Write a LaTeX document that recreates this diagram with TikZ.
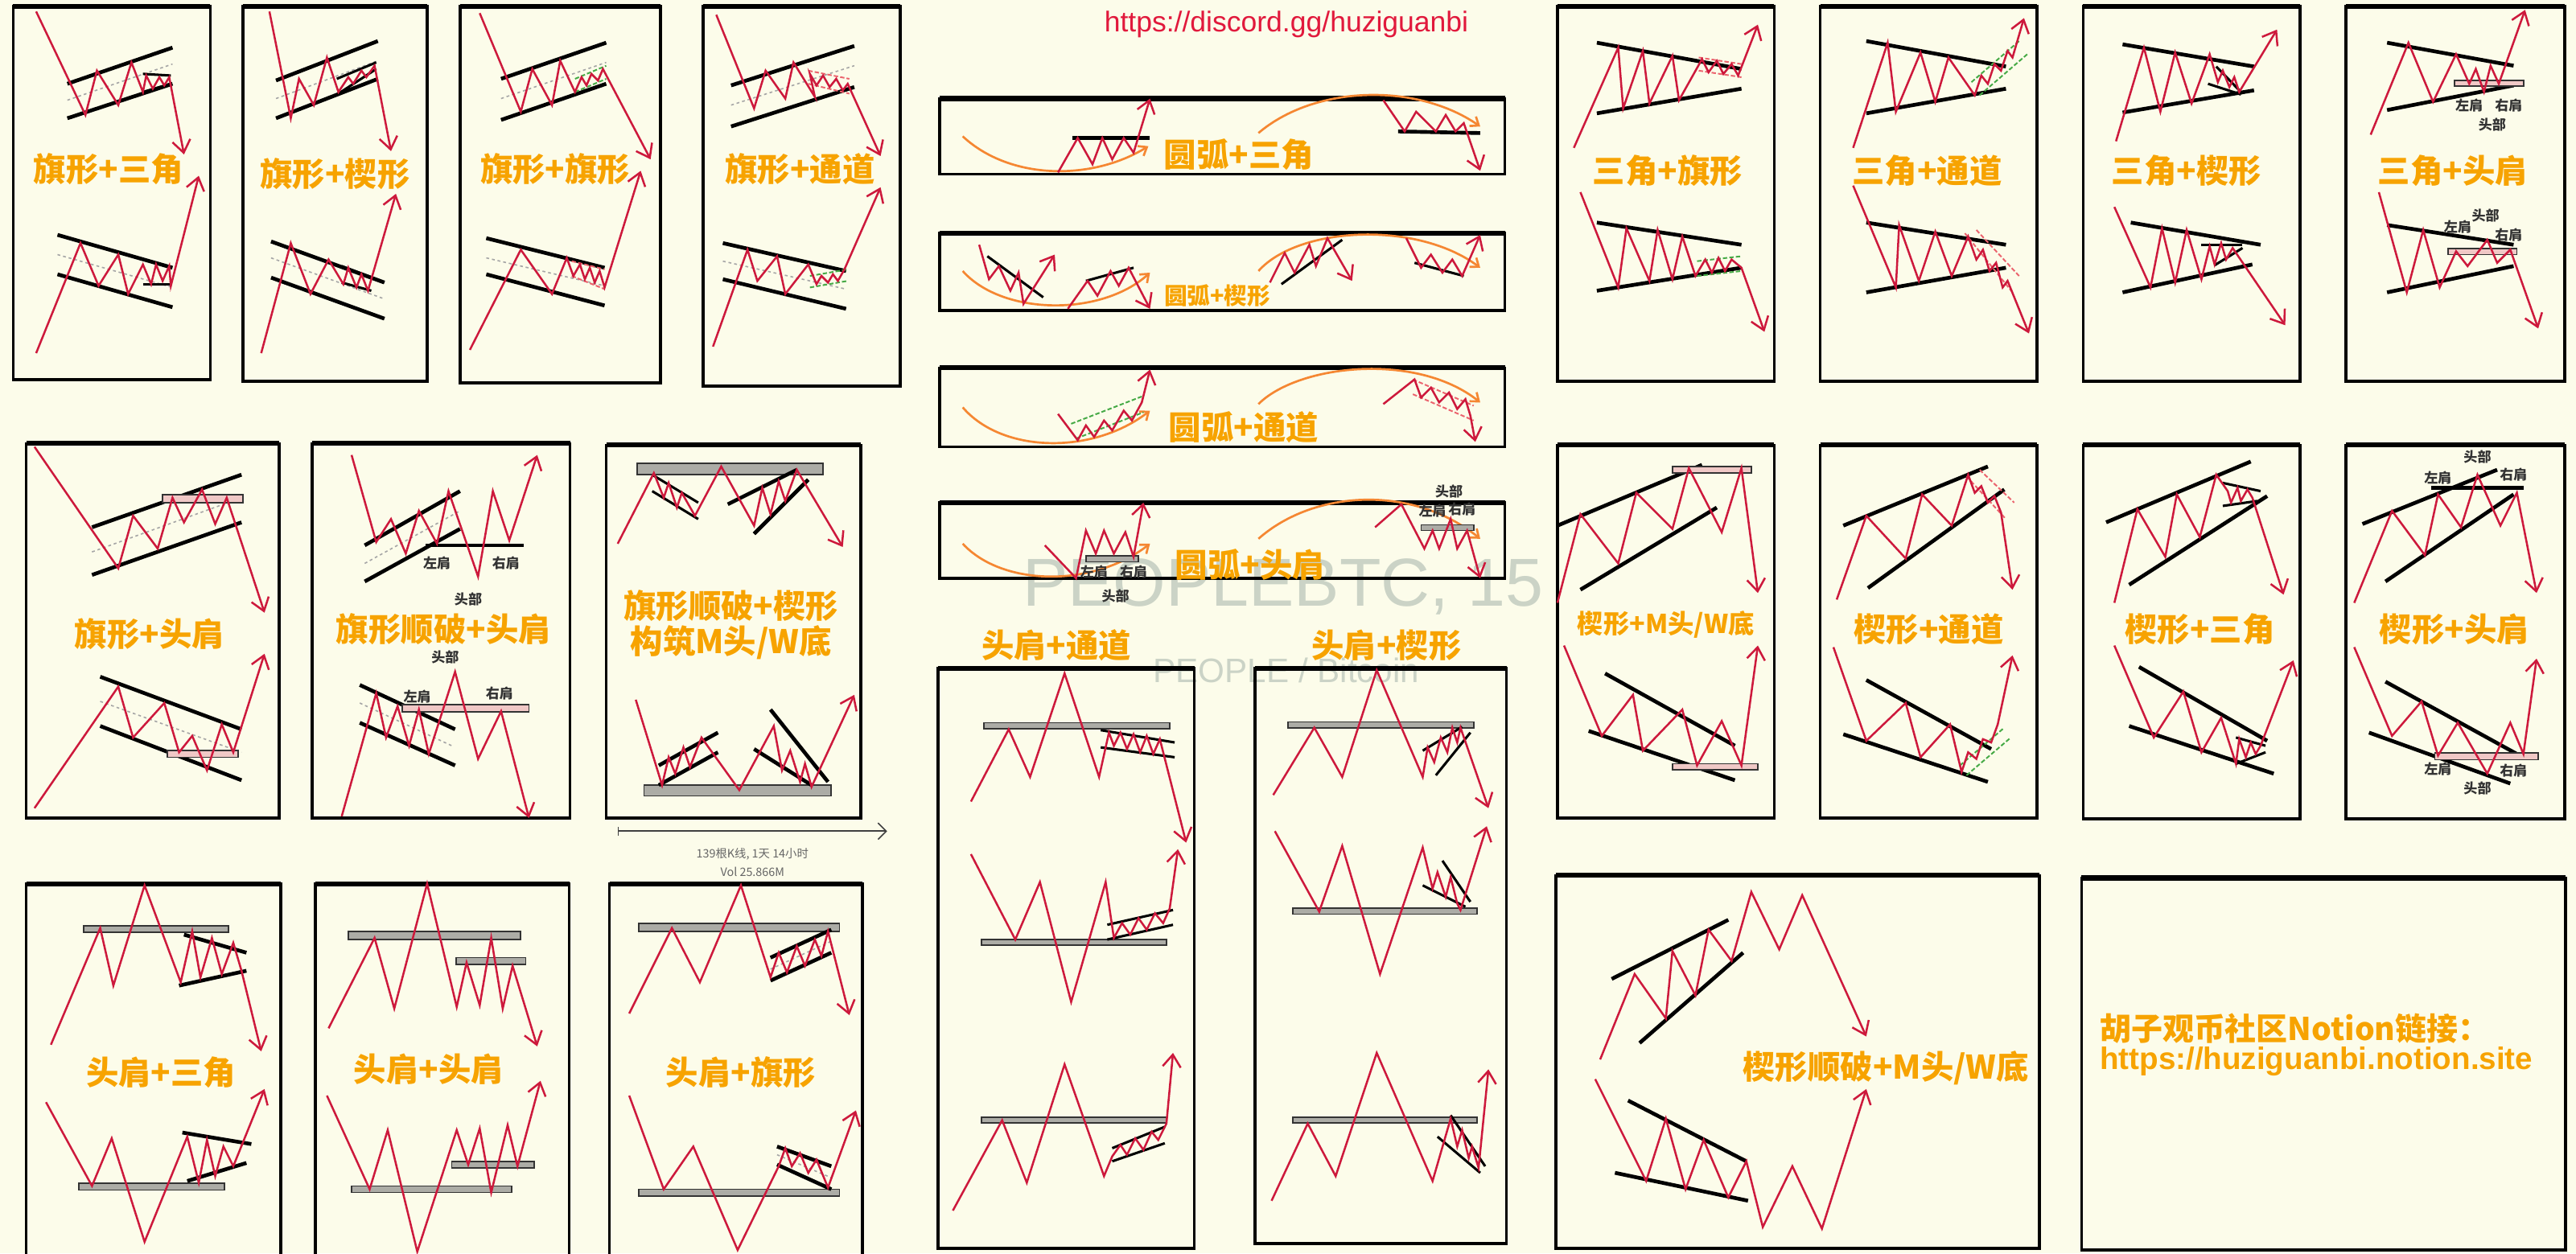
\documentclass[tikz,border=0pt]{standalone}
\usepackage{fontspec}
\setmainfont{Liberation Sans}
\newfontfamily\cjk{Noto Sans CJK SC}
\newfontfamily\latn{Liberation Sans}
\usetikzlibrary{arrows.meta}
\definecolor{bg}{RGB}{252,252,234}
\definecolor{pr}{RGB}{205,25,60}
\definecolor{tor}{RGB}{247,163,0}
\definecolor{arcor}{RGB}{245,135,50}
\definecolor{wm}{RGB}{203,211,198}
\definecolor{barg}{RGB}{172,172,166}
\definecolor{barp}{RGB}{240,200,198}
\definecolor{grn}{RGB}{70,170,70}
\definecolor{pnk}{RGB}{235,100,110}
\definecolor{urlr}{RGB}{225,25,60}
\tikzset{
  rl/.style={draw=pr, line width=1.4pt},
  ra/.style={rl, -{Straight Barb[length=3mm,width=4.4mm]}},
  tl/.style={draw=black, line width=2.6pt},
  tlt/.style={draw=black, line width=1.7pt},
  dl/.style={draw=gray!70, line width=0.9pt, dash pattern=on 2pt off 2pt},
  gl/.style={draw=grn, line width=1.1pt, dash pattern=on 3pt off 1.5pt},
  pl/.style={draw=pnk, line width=1.1pt, dash pattern=on 3pt off 1.5pt},
  bar/.style={draw=black!80, fill=barg, line width=1pt},
  pbar/.style={draw=black!80, fill=barp, line width=1pt},
  arcl/.style={draw=arcor, line width=1.5pt},
  arca/.style={arcl, -{Straight Barb[length=1.8mm,width=2.8mm]}},
  frame/.style={draw=black, line width=2pt},
  topl/.style={draw=black, line width=3.4pt},
  ttl/.style={text=tor, font=\cjk\bfseries\fontsize{22.5}{24}\selectfont, inner sep=0},
  ttm/.style={text=tor, font=\cjk\bfseries\fontsize{18}{20}\selectfont, inner sep=0},
  tts/.style={text=tor, font=\cjk\bfseries\fontsize{16}{18}\selectfont, inner sep=0},
  lab/.style={text=black!80, font=\cjk\bfseries\fontsize{9.5}{10}\selectfont, inner sep=0},
}
\newcommand\myfrm[4]{\draw[frame] (#1,#2) rectangle (#3,#4); \draw[topl] (#1,#2)--(#3,#2);}
\begin{document}
\begin{tikzpicture}[x=0.04cm,y=-0.04cm]
\fill[bg] (0,0) rectangle (1568,763);
\useasboundingbox (0,0) rectangle (1568,763);
% watermark
\node[text=wm, font=\latn\fontsize{47}{50}\selectfont, inner sep=0] (wm1) at (781,357) {PEOPLEBTC, 15};
\node[text=wm, font=\latn\fontsize{23.5}{25}\selectfont, inner sep=0] (wm2) at (783,408) {PEOPLE / Bitcoin};
% url
\node[text=urlr, font=\latn\fontsize{19.8}{21}\selectfont, inner sep=0] (url) at (783,15) {https://discord.gg/huziguanbi};

% ===== B1 =====
\myfrm{8}{4}{128}{231}
\draw[tl] (41,51)--(105,29); \draw[tl] (41,72)--(105,51); \draw[dl] (41,61)--(105,39);
\draw[tlt] (87,45)--(104,46); \draw[tlt] (87,56)--(104,51);
\draw[ra] (22,7)--(52,70)--(59,43)--(72,64)--(80,38)--(87,56)--(89,46)--(93,54)--(97,47)--(100,52)--(103,47)--(112,94);
\draw[tl] (35,143)--(105,163); \draw[tl] (35,167)--(105,187); \draw[dl] (35,155)--(105,175);
\draw[tlt] (87,173)--(105,173);
\draw[ra] (22,215)--(49,148)--(60,174)--(72,155)--(78,179)--(87,161)--(92,173)--(95,161)--(99,171)--(103,162)--(104,174)--(121,107);
\node[ttl] (t1) at (66,103) {旗形+三角};

% ===== B2 =====
\myfrm{148}{4}{260}{232}
\draw[tl] (168,49)--(230,25); \draw[tl] (168,72)--(230,48); \draw[dl] (168,60)--(230,37);
\draw[tlt] (205,48)--(229,38); \draw[tlt] (206,57)--(229,42);
\draw[ra] (164,7)--(177,72)--(182,48)--(191,64)--(199,35)--(206,56)--(212,47)--(215,51)--(220,43)--(223,47)--(228,40)--(238,92);
\draw[tl] (165,147)--(234,172); \draw[tl] (165,169)--(234,194); \draw[dl] (165,157)--(234,182);
\draw[tlt] (208,162)--(232,171); \draw[tlt] (208,172)--(226,177);
\draw[ra] (159,215)--(177,148)--(189,179)--(200,158)--(209,173)--(212,163)--(217,175)--(220,167)--(224,177)--(241,118);
\node[ttl] (t2) at (204,106) {旗形+楔形};

% ===== B3 =====
\myfrm{280}{4}{402}{233}
\draw[tl] (305,48)--(369,26); \draw[tl] (305,73)--(369,51); \draw[dl] (305,60)--(369,38);
\draw[gl] (350,48)--(369,40); \draw[gl] (350,56)--(369,48);
\draw[ra] (292,8)--(317,68)--(324,42)--(336,64)--(341,37)--(350,56)--(354,47)--(357,52)--(360,45)--(364,49)--(367,42)--(396,97);
\draw[tl] (296,145)--(368,163); \draw[tl] (296,167)--(368,186); \draw[dl] (296,157)--(368,174);
\draw[pl] (348,159)--(368,164); \draw[pl] (348,168)--(368,176);
\draw[ra] (286,213)--(317,152)--(336,179)--(345,157)--(349,168)--(353,161)--(356,170)--(359,163)--(362,172)--(365,165)--(368,175)--(390,104);
\node[ttl] (t3) at (338,103) {旗形+旗形};

% ===== B4 =====
\myfrm{428}{4}{548}{235}
\draw[tl] (445,52)--(520,28); \draw[tl] (445,77)--(520,53); \draw[dl] (445,64)--(520,40);
\draw[pl] (492,43)--(517,48); \draw[pl] (492,51)--(517,57);
\draw[ra] (436,9)--(459,66)--(466,43)--(478,60)--(483,38)--(496,59)--(493,45)--(497,52)--(501,46)--(505,53)--(509,48)--(513,55)--(516,51)--(536,95);
\draw[tl] (440,148)--(515,165); \draw[tl] (440,170)--(515,188); \draw[dl] (440,159)--(515,176);
\draw[gl] (493,168)--(516,164); \draw[gl] (493,175)--(516,171);
\draw[ra] (434,211)--(455,152)--(461,171)--(473,156)--(478,179)--(492,161)--(497,173)--(500,168)--(504,172)--(507,167)--(510,171)--(514,164)--(536,114);
\node[ttl] (t4) at (487,103) {旗形+通道};

% ===== A1 =====
\myfrm{572}{60}{916}{106}
\draw[arca] (586,83) .. controls (615,110) and (665,110) .. (699,89);
\draw[tl] (653,84)--(700,84);
\draw[ra] (644,105)--(656,84)--(665,100)--(671,84)--(677,97)--(684,84)--(690,93)--(700,60);
\draw[arca] (766,81) .. controls (800,52) and (862,50) .. (901,77);
\draw[tl] (851,80)--(901,81);
\draw[ra] (842,61)--(855,80)--(862,68)--(874,80)--(880,70)--(886,80)--(891,75)--(901,104);
\node[ttl] (t5) at (754,94) {圆弧+三角};

% ===== A2 =====
\myfrm{572}{142}{916}{189}
\draw[arca] (586,165) .. controls (610,192) and (670,193) .. (700,166);
\draw[tlt] (601,156)--(635,181);
\draw[ra] (596,149)--(602,170)--(608,162)--(615,177)--(620,166)--(623,185)--(642,155);
\draw[tlt] (661,171)--(690,163);
\draw[ra] (650,188)--(662,171)--(668,180)--(676,165)--(681,174)--(687,163)--(700,188);
\draw[arca] (766,165) .. controls (790,138) and (862,134) .. (901,163);
\draw[tlt] (780,173)--(817,146);
\draw[ra] (773,172)--(782,154)--(788,166)--(797,149)--(801,162)--(808,145)--(823,171);
\draw[tlt] (861,160)--(891,168);
\draw[ra] (856,145)--(865,163)--(871,155)--(878,166)--(884,158)--(890,168)--(901,143);
\node[tts] (t6) at (741,180) {圆弧+楔形};

% ===== A3 =====
\myfrm{572}{224}{916}{272}
\draw[arca] (586,248) .. controls (610,276) and (665,277) .. (700,250);
\draw[gl] (652,258)--(696,241); \draw[gl] (655,267)--(696,251);
\draw[ra] (644,252)--(656,268)--(661,259)--(666,266)--(672,256)--(677,262)--(684,250)--(689,256)--(695,245)--(700,225);
\draw[arca] (766,246) .. controls (790,222) and (862,214) .. (901,245);
\draw[pl] (860,231)--(897,247); \draw[pl] (860,240)--(897,256);
\draw[ra] (842,246)--(861,231)--(865,242)--(871,236)--(876,245)--(882,239)--(887,249)--(892,243)--(895,253)--(898,269);
\node[ttl] (t7) at (757,260) {圆弧+通道};

% ===== A4 =====
\myfrm{572}{306}{916}{352}
\draw[arca] (586,331) .. controls (610,357) and (665,358) .. (700,331);
\draw[bar] (661,338.5) rectangle (693,342);
\draw[ra] (636,332)--(655,352)--(661,323)--(667,337)--(672,323)--(678,337)--(685,324)--(690,339)--(696,306);
\node[lab] (l1) at (666,348) {左肩};
\node[lab] (l2) at (690,348) {右肩};
\node[lab] (l3) at (679,363) {头部};
\draw[arca] (766,328) .. controls (800,298) and (860,295) .. (901,328);
\draw[bar] (865,319.5) rectangle (897,323);
\draw[ra] (837,321)--(853,307)--(867,334)--(872,323)--(876,334)--(883,316)--(887,334)--(893,323)--(901,352);
\node[lab] (l4) at (872,311) {左肩};
\node[lab] (l5) at (890,310) {右肩};
\node[lab] (l6) at (882,299) {头部};
\node[ttl] (t8) at (761,344) {圆弧+头肩};

% ===== B5 =====
\myfrm{16}{270}{170}{498}
\draw[tl] (56,321)--(147,289); \draw[tl] (56,350)--(147,318); \draw[dl] (56,336)--(147,303);
\draw[pbar] (99,301) rectangle (148,306);
\draw[ra] (21,272)--(72,346)--(81,314)--(96,334)--(105,303)--(112,318)--(123,298)--(131,319)--(138,303)--(161,373);
\draw[tl] (61,412)--(147,444); \draw[tl] (61,442)--(147,475); \draw[dl] (61,427)--(147,458);
\draw[pbar] (102,457) rectangle (145,461);
\draw[ra] (21,492)--(72,418)--(81,449)--(100,428)--(109,458)--(117,448)--(126,469)--(135,441)--(142,458)--(161,398);
\node[ttl] (t9) at (91,386) {旗形+头肩};

% ===== B6 =====
\myfrm{190}{270}{347}{498}
\draw[tl] (222,332)--(280,299); \draw[tl] (222,354)--(280,322); \draw[dl] (222,343)--(280,311);
\draw[tl] (259,332)--(319,332);
\draw[ra] (214,277)--(229,330)--(238,316)--(247,337)--(255,311)--(266,331)--(273,299)--(291,351)--(300,299)--(310,329)--(327,277);
\node[lab] (l7) at (266,343) {左肩};
\node[lab] (l8) at (308,343) {右肩};
\node[lab] (l9) at (285,365) {头部};
\node[ttl] (t10) at (270,383) {旗形顺破+头肩};
\node[lab] (l10) at (271,400) {头部};
\draw[tl] (219,417)--(277,444); \draw[tl] (219,440)--(277,466); \draw[dl] (219,428)--(275,454);
\draw[pbar] (245,429) rectangle (322,433.5);
\draw[ra] (208,497)--(229,422)--(235,449)--(242,430)--(249,454)--(255,432)--(261,459)--(277,409)--(291,462)--(305,433)--(322,498);
\node[lab] (l11) at (254,424) {左肩};
\node[lab] (l12) at (304,422) {右肩};

% ===== B7 =====
\myfrm{369}{271}{524}{498}
\draw[bar] (388,282) rectangle (501,289);
\draw[tlt] (397,289)--(425,306); \draw[tlt] (397,299)--(425,316);
\draw[tl] (443,307)--(485,286); \draw[tl] (459,325)--(492,292);
\draw[ra] (376,331)--(398,288)--(404,303)--(407,294)--(412,309)--(415,300)--(423,314)--(439,284)--(459,320)--(464,297)--(469,313)--(474,293)--(478,305)--(485,286)--(513,333);
\node[ttl] (t11) at (445,369) {旗形顺破+楔形};
\node[ttl] (t12) at (445,391) {构筑M头/W底};
\draw[bar] (392,478) rectangle (506,484.5);
\draw[tl] (401,466)--(437,446); \draw[tl] (401,478)--(437,458);
\draw[tl] (459,456)--(494,478); \draw[tl] (469,432)--(504,476);
\draw[ra] (387,426)--(403,478)--(407,461)--(411,471)--(416,455)--(420,467)--(427,449)--(450,481)--(471,442)--(476,469)--(481,457)--(487,476)--(490,465)--(494,479)--(520,423);
\coordinate (ax1) at (376,506);
\coordinate (ax2) at (540,506);
\draw[draw=black!75, line width=0.9pt, {Bar[width=2.2mm]}-{Straight Barb[length=2mm,width=4mm]}] (ax1)--(ax2);
\node[text=black!60, font=\cjk\fontsize{8}{9}\selectfont, inner sep=0] (k1) at (458,520) {139根K线, 1天 14小时};
\node[text=black!60, font=\cjk\fontsize{8}{9}\selectfont, inner sep=0] (k2) at (458,531) {Vol 25.866M};

% ===== B8 =====
\myfrm{16}{538}{171}{775}
\draw[bar] (51,563.5) rectangle (139,567.5);
\draw[tl] (112,569)--(150,580); \draw[tl] (109,600)--(150,591);
\draw[ra] (31,636)--(61,565)--(69,600)--(88,539)--(110,598)--(117,567)--(122,595)--(129,571)--(135,593)--(142,574)--(147,591)--(159,640);
\draw[bar] (48,720.5) rectangle (136.5,724.5);
\draw[tl] (111,689.5)--(153,696.5); \draw[tl] (114,719)--(150,708);
\draw[ra] (28,671)--(56,722)--(68,693)--(88,756)--(114,692)--(121,720)--(126,694)--(131,716)--(136,698)--(142,710)--(161,663);
\node[ttl] (t13) at (98,653) {头肩+三角};

% ===== B9 =====
\myfrm{192}{538}{346.5}{775}
\draw[bar] (212,567) rectangle (317,572);
\draw[bar] (277.6,583) rectangle (320,587);
\draw[ra] (200,626)--(228,571)--(240,614)--(260,538)--(278,613)--(284,586)--(292,612)--(299,571)--(306,614)--(312,588)--(327,637);
\draw[bar] (214,722) rectangle (311.5,726);
\draw[bar] (275,707) rectangle (325,711);
\draw[ra] (199,667)--(225,724)--(236,688)--(254,762)--(278,688)--(285,709)--(292,687)--(299,726)--(309,685)--(315,710)--(329,658);
\node[ttl] (t14) at (261,651) {头肩+头肩};

% ===== B10 =====
\myfrm{371}{538}{525}{775}
\draw[bar] (389,562) rectangle (511,567);
\draw[tl] (469,583)--(506,566); \draw[tl] (469,597)--(506,580); \draw[dl] (469,590)--(506,573);
\draw[ra] (383,617)--(409,565)--(426,598)--(451,539)--(469,595)--(474,580)--(479,592)--(485,576)--(490,588)--(496,572)--(500,582)--(504,567)--(517,618);
\draw[bar] (389,724) rectangle (511,728);
\draw[tl] (473,698)--(506,710); \draw[tl] (473,709)--(506,724); \draw[dl] (473,703)--(506,717);
\draw[ra] (383,667)--(404,724)--(422,698)--(449,761)--(474,710)--(478,699)--(482,710)--(487,702)--(492,714)--(497,706)--(504,723)--(521,676);
\node[ttl] (t15) at (451,653) {头肩+旗形};

% ===== C1 =====
\myfrm{571}{407}{727}{760}
\node[ttl] (t16) at (643,393) {头肩+通道};
\draw[bar] (599,440) rectangle (712,443.5);
\draw[tlt] (670,444.5)--(715,452); \draw[tlt] (670,455)--(715,461);
\draw[ra] (591,488)--(614,444)--(627,473)--(648,410)--(669,473)--(675,446)--(678,454)--(682,446)--(686,456)--(690,447)--(694,458)--(698,448)--(702,459)--(706,450)--(722,513);
\draw[bar] (597.5,572) rectangle (710,575.5);
\draw[tlt] (674,563)--(714,554); \draw[tlt] (674,572)--(714,563);
\draw[ra] (591,520)--(618,572)--(633,537)--(652,610)--(673,537)--(678,571)--(683,562)--(688,569)--(693,559)--(698,566)--(703,556)--(708,562)--(712,553)--(717,517);
\draw[bar] (597.5,680) rectangle (710,683.5);
\draw[tlt] (677,699)--(709,686); \draw[tlt] (677,707)--(709,696);
\draw[ra] (580,737)--(610,682)--(625,720)--(648,648)--(672,716)--(677,704)--(682,697)--(686,703)--(691,693)--(696,700)--(701,689)--(705,694)--(710,684)--(714,641);

% ===== C2 =====
\myfrm{764}{407}{917}{757}
\node[ttl] (t17) at (844,393) {头肩+楔形};
\draw[bar] (784,439.5) rectangle (897,443);
\draw[tlt] (866,457)--(890,442.5); \draw[tlt] (874,472)--(895,446);
\draw[ra] (775,484)--(800,443)--(817,473)--(838,408)--(866,473)--(869,455)--(873,464)--(877,449)--(881,458)--(884,443)--(887,452)--(889,443)--(906,492);
\draw[bar] (787,553) rectangle (899,556.5);
\draw[tlt] (866,539)--(892,552); \draw[tlt] (878,524)--(895,549);
\draw[ra] (776,506)--(803,555)--(817,515)--(840,593)--(866,516)--(872,541)--(875,531)--(880,546)--(883,534)--(887,550)--(889,554)--(905,503);
\draw[bar] (787,680) rectangle (899,683.5);
\draw[tlt] (875,692)--(901,714); \draw[tlt] (883,679)--(904,710);
\draw[ra] (774,731)--(796,684)--(813,716)--(838,641)--(872,719)--(883,681)--(887,698)--(890,688)--(894,705)--(896,698)--(900,711)--(906,651);

% ===== B11 =====
\myfrm{948}{4}{1080}{232}
\draw[tl] (972,26)--(1060,42); \draw[tl] (972,69)--(1060,54);
\draw[pl] (1034,35)--(1060,39); \draw[pl] (1034,43)--(1060,47);
\draw[ra] (958,90)--(985,29)--(988,66)--(1000,31)--(1004,63)--(1018,34)--(1022,61)--(1036,36)--(1040,44)--(1045,37)--(1049,45)--(1054,39)--(1058,46)--(1070,15);
\draw[tl] (972,135.5)--(1060,149); \draw[tl] (972,177)--(1060,163);
\draw[gl] (1033,159)--(1060,156); \draw[gl] (1033,168)--(1060,165);
\draw[ra] (962,117)--(985,175)--(990,139)--(1004,171)--(1009,140)--(1018,170)--(1024,144)--(1032,168)--(1038,158)--(1042,166)--(1046,157)--(1050,165)--(1054,158)--(1060,163)--(1074,202);
\node[ttl] (t18) at (1015,104) {三角+旗形};

% ===== B12 =====
\myfrm{1108}{4}{1240}{232}
\draw[tl] (1136,25)--(1221,40.5); \draw[tl] (1136,69)--(1221,54);
\draw[gl] (1200,50)--(1229,25); \draw[gl] (1205,58)--(1234,33);
\draw[ra] (1128,90)--(1149,26)--(1154,68)--(1169,32)--(1178,62)--(1186,35)--(1202,58)--(1206,46)--(1210,51)--(1214,39)--(1218,43)--(1222,31)--(1225,35)--(1232,11);
\draw[tl] (1136,135.5)--(1221,149); \draw[tl] (1136,178)--(1221,163);
\draw[pl] (1196,142)--(1225,178); \draw[pl] (1203,140)--(1229,168);
\draw[ra] (1128,113)--(1154,175)--(1156,137)--(1168,171)--(1178,141)--(1188,168)--(1198,144)--(1203,158)--(1207,152)--(1211,165)--(1215,160)--(1219,175)--(1222,171)--(1235,203);
\node[ttl] (t19) at (1173,104) {三角+通道};

% ===== B13 =====
\myfrm{1268}{4}{1400}{232}
\draw[tl] (1292,27)--(1372,40.5); \draw[tl] (1292,68.5)--(1372,55);
\draw[tlt] (1349,40.5)--(1365,57); \draw[tlt] (1344,51)--(1364,57.5);
\draw[ra] (1288,86)--(1305,29)--(1315,68)--(1324,32)--(1334,63)--(1345,33)--(1350,50)--(1353,43)--(1357,53)--(1360,47)--(1363,56)--(1386,18);
\draw[tl] (1297,135.5)--(1376,149); \draw[tl] (1292,178)--(1371,161);
\draw[tlt] (1340,149)--(1365,149); \draw[tlt] (1348,161.5)--(1365,151);
\draw[ra] (1287,126)--(1309,175)--(1316,139)--(1324,172)--(1331,140)--(1340,170)--(1345,150)--(1348,161)--(1352,148)--(1355,158)--(1359,151)--(1391,198);
\node[ttl] (t20) at (1331,104) {三角+楔形};

% ===== B14 =====
\myfrm{1428}{4}{1561}{232}
\draw[tl] (1453,26)--(1530,40); \draw[tl] (1453,67)--(1530,52);
\draw[pbar] (1494,49) rectangle (1536,52.5);
\draw[ra] (1443,82)--(1466,26)--(1481,62)--(1495,33)--(1503,51)--(1507,42)--(1512,56)--(1516,40)--(1521,51)--(1537,6);
\node[lab] (l13) at (1503,64) {左肩};
\node[lab] (l14) at (1527,64) {右肩};
\node[lab] (l15) at (1517,76) {头部};
\draw[tl] (1453,137)--(1530,149); \draw[tl] (1453,178)--(1530,162);
\draw[pbar] (1490,151.5) rectangle (1532,155);
\draw[ra] (1448,117)--(1465,178)--(1475,140)--(1485,175)--(1495,153)--(1502,162)--(1514,146)--(1520,160)--(1528,152)--(1545,200);
\node[lab] (l16) at (1513,131) {头部};
\node[lab] (l17) at (1496,138) {左肩};
\node[lab] (l18) at (1527,143) {右肩};
\node[ttl] (t21) at (1493,104) {三角+头肩};

% ===== B15 =====
\myfrm{948}{271}{1080}{498}
\draw[tl] (948,320)--(1036,283); \draw[tl] (962,359)--(1045,309);
\draw[pbar] (1018,284) rectangle (1066,288);
\draw[ra] (948,367)--(962,313)--(985,343)--(996,300)--(1018,322)--(1028,285)--(1048,324)--(1060,285)--(1070,361);
\draw[tl] (977,410)--(1056,454); \draw[tl] (967,445)--(1056,475);
\draw[pbar] (1018,465) rectangle (1070,468.5);
\draw[ra] (952,393)--(975,448)--(994,423)--(1000,457)--(1024,432)--(1033,466)--(1048,439)--(1060,466)--(1070,393);
\node[ttm] (t22) at (1014,380) {楔形+M头/W底};

% ===== B16 =====
\myfrm{1108}{271}{1240}{498}
\draw[tl] (1122,320)--(1210,284); \draw[tl] (1137,358)--(1220,298);
\draw[pl] (1197,290)--(1221,316); \draw[pl] (1205,286)--(1226,306);
\draw[ra] (1118,365)--(1136,314)--(1160,340)--(1170,301)--(1188,320)--(1198,289)--(1202,300)--(1206,296)--(1210,306)--(1214,302)--(1218,312)--(1225,359);
\draw[tl] (1136,414)--(1212,456); \draw[tl] (1122,447)--(1210,476);
\draw[gl] (1193,466)--(1220,443); \draw[gl] (1197,472)--(1224,449);
\draw[ra] (1116,394)--(1136,451)--(1160,428)--(1169,461)--(1187,441)--(1194,470)--(1198,458)--(1203,462)--(1207,450)--(1212,452)--(1216,441)--(1225,399);
\node[ttl] (t23) at (1174,383) {楔形+通道};

% ===== B17 =====
\myfrm{1268}{271}{1400}{498.5}
\draw[tl] (1282,318)--(1370,281); \draw[tl] (1296,356)--(1380,302);
\draw[tlt] (1353,294)--(1376,299); \draw[tlt] (1353,308)--(1374,305);
\draw[ra] (1287,367)--(1301,310)--(1318,339)--(1325,301)--(1339,327)--(1349,289)--(1356,299)--(1358,306)--(1362,297)--(1364,305)--(1368,298)--(1371,303)--(1390,362);
\draw[tl] (1302,406)--(1380,451); \draw[tl] (1296,442)--(1384,471);
\draw[tlt] (1361,449)--(1379,454); \draw[tlt] (1361,465)--(1379,458);
\draw[ra] (1287,393)--(1311,449)--(1329,421)--(1340,458)--(1352,437)--(1361,465)--(1363,450)--(1367,461)--(1370,452)--(1373,459)--(1376,454)--(1396,402);
\node[ttl] (t24) at (1339,383) {楔形+三角};

% ===== B18 =====
\myfrm{1428}{271}{1561}{498.5}
\draw[tl] (1438,319)--(1520,286); \draw[tl] (1452,354)--(1530,301);
\draw[tl] (1480,297)--(1536,297);
\draw[ra] (1433,367)--(1456,311)--(1476,338)--(1484,301)--(1498,321)--(1508,289)--(1522,320)--(1532,300)--(1544,361);
\node[lab] (l19) at (1508,278) {头部};
\node[lab] (l20) at (1484,291) {左肩};
\node[lab] (l21) at (1530,289) {右肩};
\draw[tl] (1452,415)--(1532,459); \draw[tl] (1442,446)--(1528,477);
\draw[pbar] (1482,458.5) rectangle (1545,462.5);
\draw[ra] (1433,394)--(1456,448)--(1474,427)--(1484,460)--(1496,440)--(1514,471)--(1528,440)--(1536,459)--(1544,401);
\node[lab] (l22) at (1484,468) {左肩};
\node[lab] (l23) at (1530,469) {右肩};
\node[lab] (l24) at (1508,480) {头部};
\node[ttl] (t25) at (1494,383) {楔形+头肩};

% ===== B19 =====
\myfrm{947}{533}{1241.5}{760}
\draw[tl] (981,596)--(1052,560); \draw[tl] (998,635)--(1061,580);
\draw[ra] (974,645)--(995,593)--(1014,620)--(1018,579)--(1032,606)--(1040,566)--(1054,585)--(1066,543)--(1083,578)--(1097,545)--(1136,631);
\draw[tl] (991,670)--(1063,707); \draw[tl] (983,714)--(1064,731);
\draw[ra] (971,657)--(1002,719)--(1014,681)--(1026,724)--(1037,694)--(1052,729)--(1063,707)--(1073,747)--(1091,710)--(1109,748)--(1136,663);
\node[ttl] (t26) at (1148,650) {楔形顺破+M头/W底};

% ===== B20 =====
\myfrm{1267}{534.5}{1561.5}{761}
\node[text=tor, font=\cjk\bfseries\fontsize{21.7}{23}\selectfont, inner sep=0, anchor=west] (t27) at (1278,626) {胡子观币社区Notion链接：};
\node[text=tor, font=\latn\bfseries\fontsize{21.5}{23}\selectfont, inner sep=0, anchor=west] (t28) at (1278,646) {https://huziguanbi.notion.site};
\end{tikzpicture}
\end{document}
